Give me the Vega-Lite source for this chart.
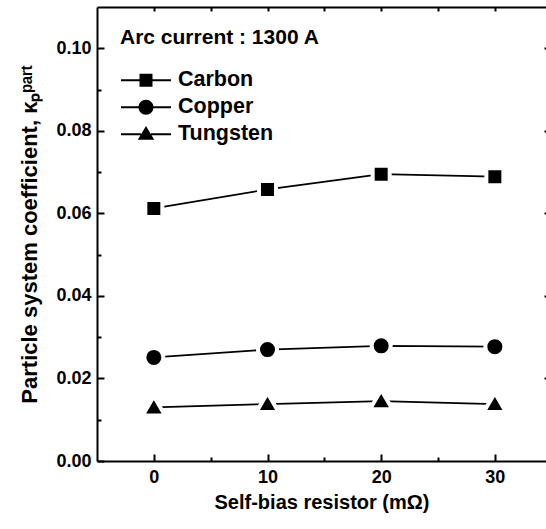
{
  "$schema": "https://vega.github.io/schema/vega-lite/v6.json",
  "width": 449,
  "height": 454,
  "autosize": {"type": "none"},
  "padding": {"left": 97, "top": 7, "right": 0, "bottom": 68},
  "background": "white",
  "config": {
    "view": {"stroke": null},
    "font": "Liberation Sans",
    "axis": {
      "labelFont": "Liberation Sans",
      "labelFontWeight": "bold",
      "labelFontSize": 18,
      "labelColor": "black",
      "titleFont": "Liberation Sans",
      "titleFontWeight": "bold",
      "titleFontSize": 20,
      "titleColor": "black",
      "domainColor": "black",
      "domainWidth": 2,
      "tickColor": "black",
      "tickWidth": 2,
      "grid": false
    }
  },
  "data": {
    "values": [
      {"resistor": 0, "kappa": 0.0612, "material": "Carbon"},
      {"resistor": 10, "kappa": 0.0658, "material": "Carbon"},
      {"resistor": 20, "kappa": 0.0695, "material": "Carbon"},
      {"resistor": 30, "kappa": 0.0689, "material": "Carbon"},
      {"resistor": 0, "kappa": 0.0251, "material": "Copper"},
      {"resistor": 10, "kappa": 0.0270, "material": "Copper"},
      {"resistor": 20, "kappa": 0.0279, "material": "Copper"},
      {"resistor": 30, "kappa": 0.0277, "material": "Copper"},
      {"resistor": 0, "kappa": 0.0130, "material": "Tungsten"},
      {"resistor": 10, "kappa": 0.0138, "material": "Tungsten"},
      {"resistor": 20, "kappa": 0.0145, "material": "Tungsten"},
      {"resistor": 30, "kappa": 0.0138, "material": "Tungsten"}
    ]
  },
  "resolve": {"scale": {"shape": "independent"}, "legend": {"shape": "independent"}},
  "layer": [
    {
      "mark": {"type": "line", "color": "black", "strokeWidth": 1.8},
      "encoding": {
        "x": {
          "field": "resistor", "type": "quantitative",
          "scale": {"domain": [-5, 34.5], "nice": false, "zero": false},
          "axis": {"orient": "bottom", "values": [0, 10, 20, 30], "format": "d", "tickSize": -7, "labelPadding": 14, "title": "Self-bias resistor (mΩ)", "titlePadding": 6}
        },
        "y": {
          "field": "kappa", "type": "quantitative",
          "scale": {"domain": [0, 0.11], "nice": false},
          "axis": {"orient": "left", "values": [0, 0.02, 0.04, 0.06, 0.08, 0.1], "format": ".2f", "tickSize": -7, "labelPadding": 13, "title": "Particle system coefficient, κₚᵖᵃʳᵗ", "titleFontSize": 22, "titlePadding": 14}
        },
        "detail": {"field": "material"}
      }
    },
    {
      "mark": {"type": "point", "filled": true, "color": "black", "stroke": "white", "strokeWidth": 4, "opacity": 1, "strokeOpacity": 1, "size": 289},
      "encoding": {
        "x": {
          "field": "resistor", "type": "quantitative",
          "axis": {"orient": "bottom", "values": [5, 15, 25], "labels": false, "domain": false, "tickSize": -4, "title": null}
        },
        "y": {
          "field": "kappa", "type": "quantitative",
          "axis": {"orient": "left", "values": [0.01, 0.03, 0.05, 0.07, 0.09], "labels": false, "domain": false, "tickSize": -4, "title": null}
        },
        "shape": {
          "field": "material", "type": "nominal",
          "scale": {"domain": ["Carbon", "Copper", "Tungsten"], "range": ["M-1,-1H1V1H-1Z", "M-1.12,0A1.12,1.12 0 1,0 1.12,0A1.12,1.12 0 1,0 -1.12,0Z", "M0,-1.3L1.32,0.95H-1.32Z"]},
          "legend": null
        }
      }
    },
    {
      "transform": [{"filter": "datum.kappa < 0"}],
      "mark": {"type": "point", "filled": true, "color": "black", "opacity": 1},
      "encoding": {
        "x": {"field": "resistor", "type": "quantitative", "axis": null},
        "y": {"field": "kappa", "type": "quantitative", "axis": null},
        "shape": {
          "field": "material", "type": "nominal",
          "scale": {"domain": ["Carbon", "Copper", "Tungsten"], "range": [
            "M-1,-0.04H-0.2V0.04H-1Z M0.2,-0.04H1V0.04H0.2Z M-0.26,-0.26H0.26V0.26H-0.26Z",
            "M-1,-0.04H-0.25V0.04H-1Z M0.25,-0.04H1V0.04H0.25Z M-0.3,0A0.3,0.3 0 1,1 0.3,0A0.3,0.3 0 1,1 -0.3,0Z",
            "M-1,-0.04H-0.2V0.04H-1Z M0.2,-0.04H1V0.04H0.2Z M0,-0.33L0.33,0.22H-0.33Z"
          ]},
          "legend": {
            "orient": "none",
            "legendX": 23,
            "legendY": 20,
            "title": "Arc current : 1300 A",
            "titleFont": "Liberation Sans",
            "titleFontSize": 21,
            "titleFontWeight": "bold",
            "titleColor": "black",
            "titleLimit": 400,
            "titlePadding": 19,
            "labelFont": "Liberation Sans",
            "labelFontSize": 21.5,
            "labelFontWeight": "bold",
            "labelColor": "black",
            "labelLimit": 300,
            "labelOffset": 6,
            "symbolSize": 2500,
            "clipHeight": 26.5,
            "rowPadding": 0,
            "padding": 0
          }
        }
      }
    },
    {
      "mark": {"type": "point", "opacity": 0},
      "encoding": {
        "x": {
          "field": "resistor", "type": "quantitative",
          "axis": {"orient": "top", "values": [0, 5, 10, 15, 20, 25, 30], "labels": false, "domain": true, "tickSize": -4, "title": null}
        },
        "y": {
          "field": "kappa", "type": "quantitative",
          "axis": {"orient": "right", "values": [0.02, 0.04, 0.06, 0.08, 0.1], "labels": false, "domain": false, "tickSize": -2, "title": null}
        }
      }
    }
  ]
}
